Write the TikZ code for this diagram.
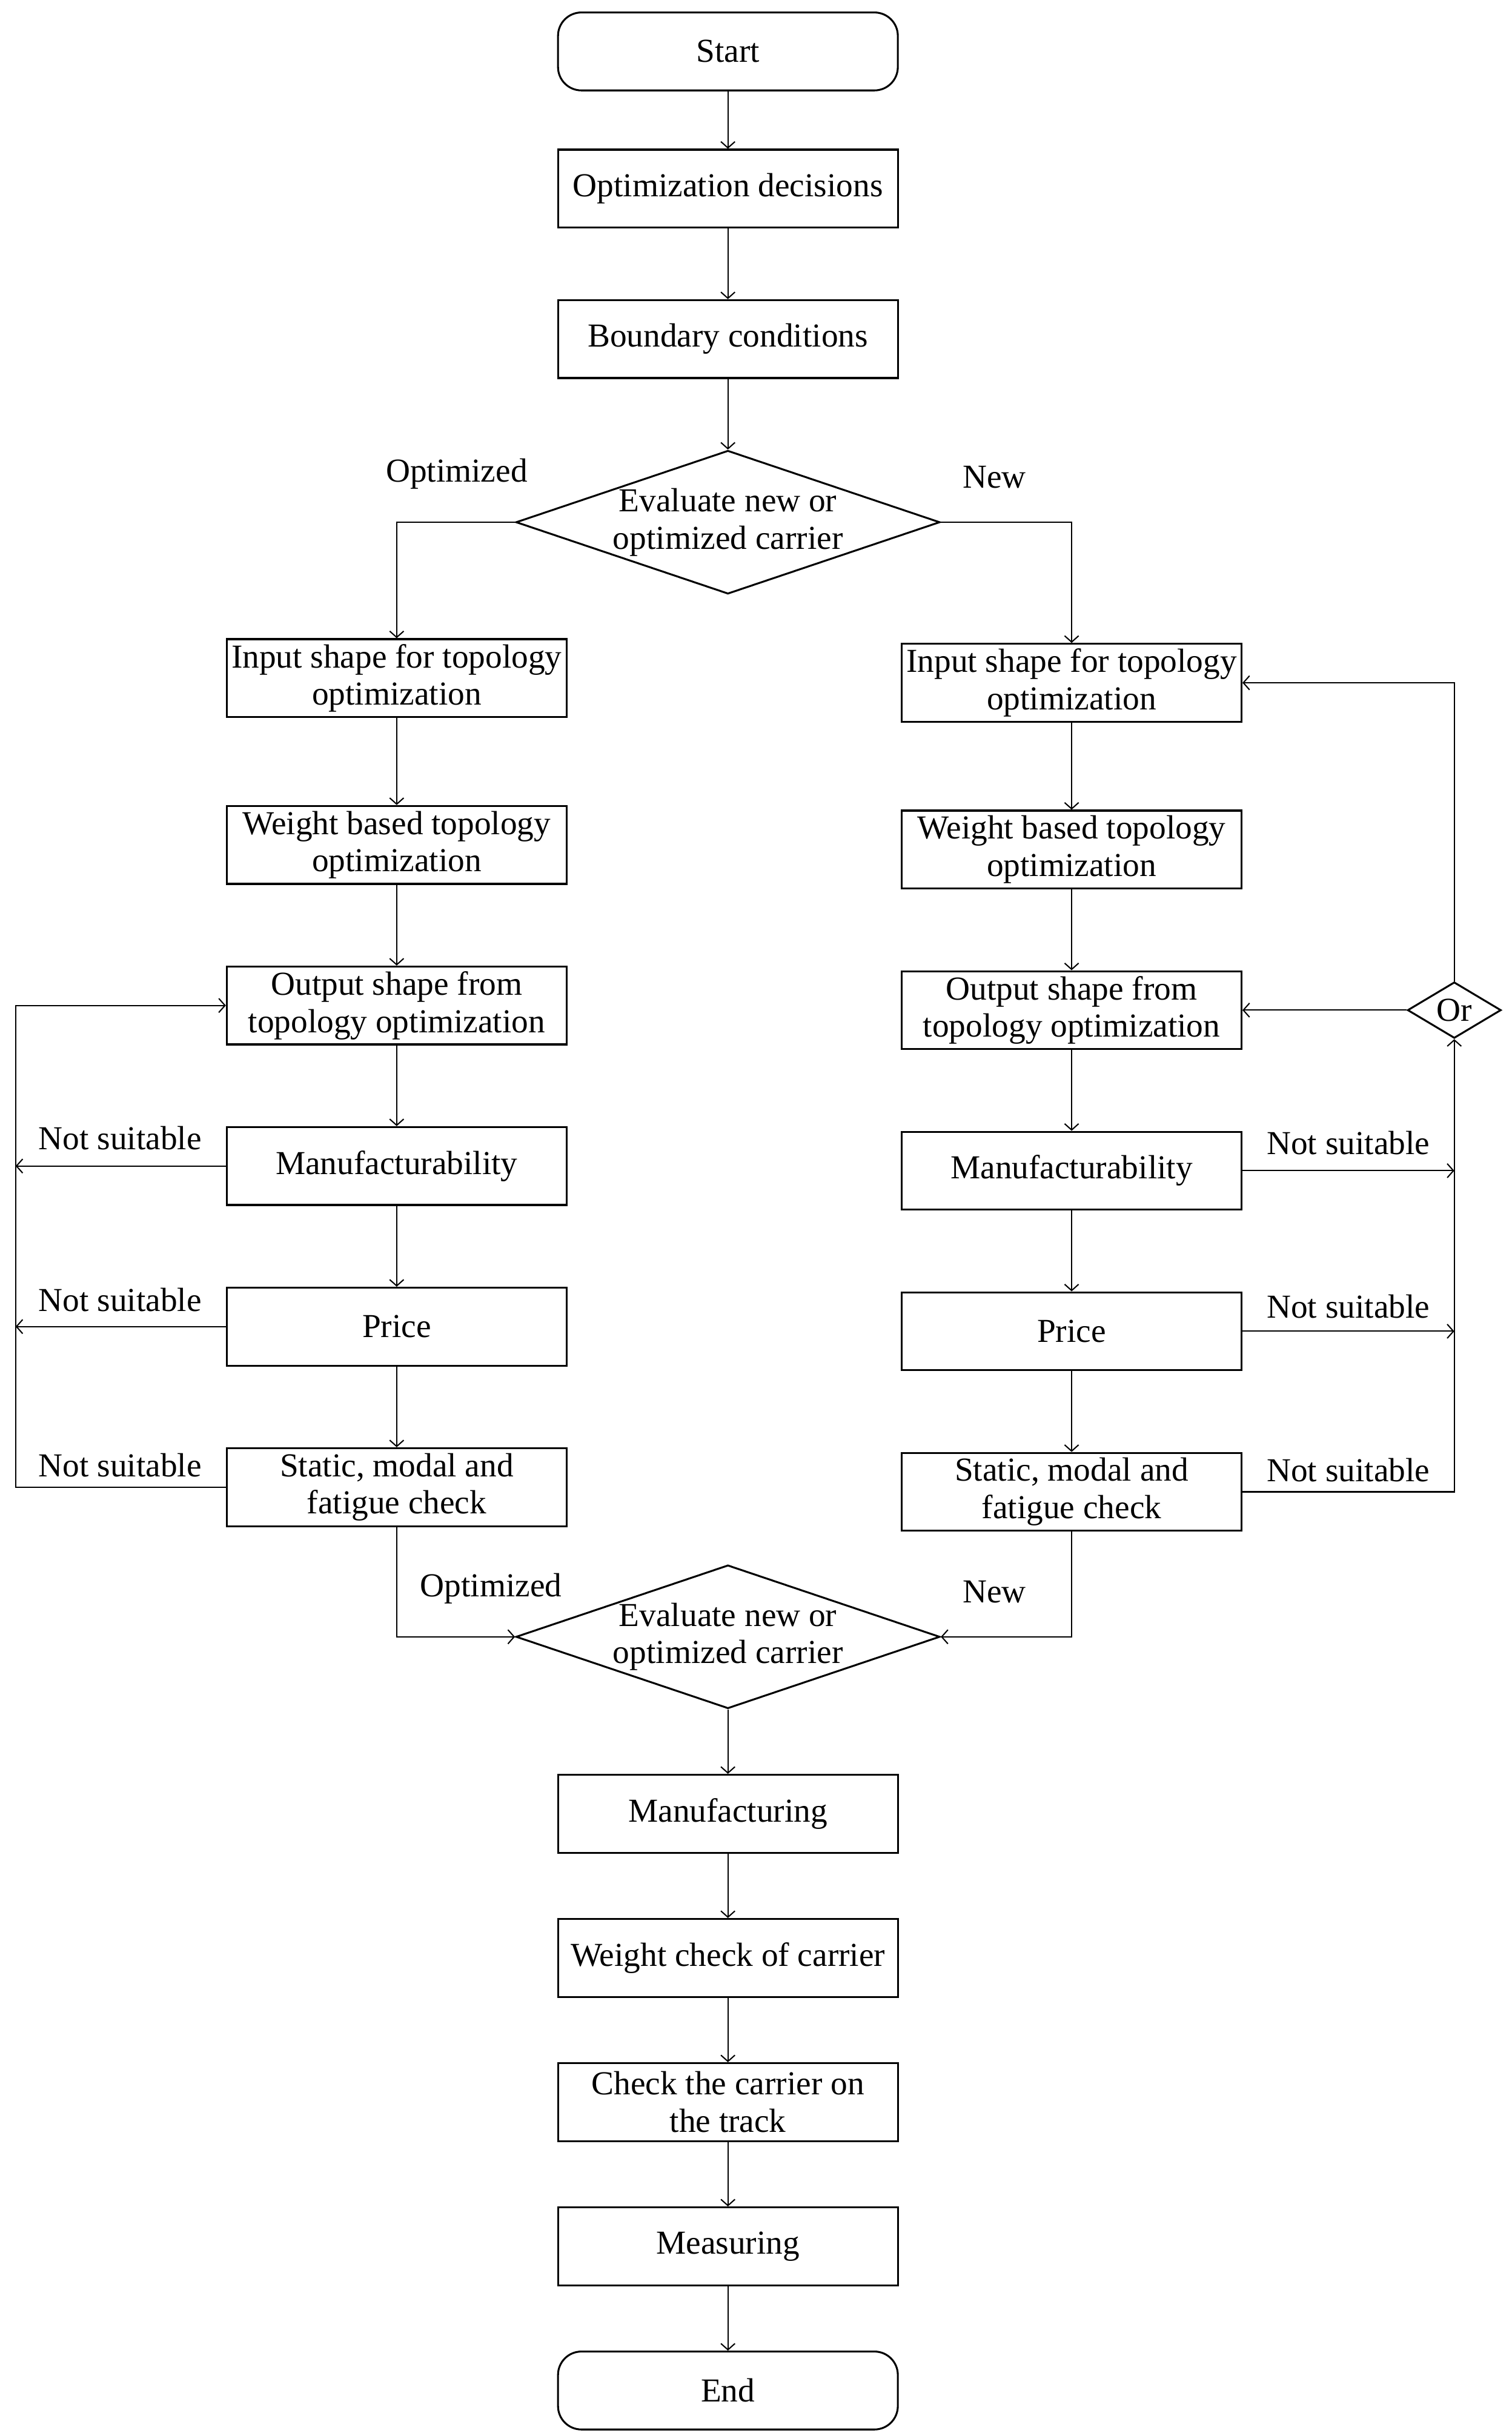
\documentclass[tikz,border=0pt]{standalone}
\usepackage{fontspec}
\setmainfont{Liberation Serif}
\usetikzlibrary{shapes.geometric,arrows.meta}
\begin{document}
\begin{tikzpicture}[x=1pt,y=-1pt,
  font=\fontsize{21.5}{24}\selectfont,
  box/.style={draw,line width=1.2pt,minimum width=218pt,minimum height=50pt,inner xsep=1pt,inner ysep=0pt,align=center},
  term/.style={box,rounded corners=15pt},
  dia/.style={draw,line width=1.2pt,shape=diamond,inner sep=0pt,minimum width=272pt,minimum height=92pt},
  ordia/.style={draw,line width=1.2pt,shape=diamond,inner sep=0pt,minimum width=60pt,minimum height=36pt},
  conn/.style={line width=0.8pt},
  arr/.style={conn,-{Straight Barb[length=4pt,width=9pt]}},
  lab/.style={inner sep=0pt}]
\useasboundingbox (0,0) rectangle (970,1562.7);
% main column
\node[term] (start) at (467,33) {Start};
\node[box] (opt) at (467,121) {Optimization decisions};
\node[box] (bc) at (467,217.5) {Boundary conditions};
\node[dia,label={[align=center,inner sep=0pt]center:Evaluate new or\\optimized carrier}] (d1) at (467,335) {};
% left column
\node[box] (lin) at (254.5,435) {Input shape for topology\\optimization};
\node[box] (lw) at (254.5,542) {Weight based topology\\optimization};
\node[box] (lo) at (254.5,645) {Output shape from\\topology optimization};
\node[box] (lm) at (254.5,748) {Manufacturability};
\node[box] (lp) at (254.5,851) {Price};
\node[box] (ls) at (254.5,954) {Static, modal and\\fatigue check};
% right column
\node[box] (rin) at (687.5,438) {Input shape for topology\\optimization};
\node[box] (rw) at (687.5,545) {Weight based topology\\optimization};
\node[box] (ro) at (687.5,648) {Output shape from\\topology optimization};
\node[box] (rm) at (687.5,751) {Manufacturability};
\node[box] (rp) at (687.5,854) {Price};
\node[box] (rs) at (687.5,957) {Static, modal and\\fatigue check};
\node[ordia,label={[inner sep=0pt]center:Or}] (or) at (933,648) {};
% lower main column
\node[dia,label={[align=center,inner sep=0pt]center:Evaluate new or\\optimized carrier}] (d2) at (467,1050) {};
\node[box] (mf) at (467,1163.5) {Manufacturing};
\node[box] (wc) at (467,1256) {Weight check of carrier};
\node[box] (tr) at (467,1348.5) {Check the carrier on\\the track};
\node[box] (ms) at (467,1441) {Measuring};
\node[term] (end) at (467,1533.5) {End};
% labels
\node[lab] (o1) at (293,304) {Optimized};
\node[lab] (n1) at (638,306) {New};
\node[lab] (o2) at (315,1019) {Optimized};
\node[lab] (n2) at (638,1021) {New};
\node[lab] (ls1) at (77,730) {Not suitable};
\node[lab] (ls2) at (77,834) {Not suitable};
\node[lab] (ls3) at (77,940) {Not suitable};
\node[lab] (rs1) at (865,733) {Not suitable};
\node[lab] (rs2) at (865,838) {Not suitable};
\node[lab] (rs3) at (865,943) {Not suitable};
\coordinate (lt) at (10,645);
% main connectors
\draw[arr] (start) -- (opt);
\draw[arr] (opt) -- (bc);
\draw[arr] (bc) -- (d1);
\draw[arr] (d1.west) -| (lin.north);
\draw[arr] (d1.east) -| (rin.north);
\draw[arr] (lin) -- (lw);
\draw[arr] (lw) -- (lo);
\draw[arr] (lo) -- (lm);
\draw[arr] (lm) -- (lp);
\draw[arr] (lp) -- (ls);
\draw[arr] (rin) -- (rw);
\draw[arr] (rw) -- (ro);
\draw[arr] (ro) -- (rm);
\draw[arr] (rm) -- (rp);
\draw[arr] (rp) -- (rs);
\draw[arr] (ls.south) |- (d2.west);
\draw[arr] (rs.south) |- (d2.east);
\draw[arr] (d2) -- (mf);
\draw[arr] (mf) -- (wc);
\draw[arr] (wc) -- (tr);
\draw[arr] (tr) -- (ms);
\draw[arr] (ms) -- (end);
% left feedback
\draw[arr] (lm.west) -- (lm.west -| lt);
\draw[arr] (lp.west) -- (lp.west -| lt);
\draw[arr] (ls.west) -| (lt) -- (lo.west);
% right feedback
\draw[arr] (rm.east) -- (rm.east -| or);
\draw[arr] (rp.east) -- (rp.east -| or);
\draw[arr] (rs.east) -| (or.south);
\draw[arr] (or.west) -- (ro.east);
\draw[arr] (or.north) |- (rin.east);
\end{tikzpicture}
\end{document}
